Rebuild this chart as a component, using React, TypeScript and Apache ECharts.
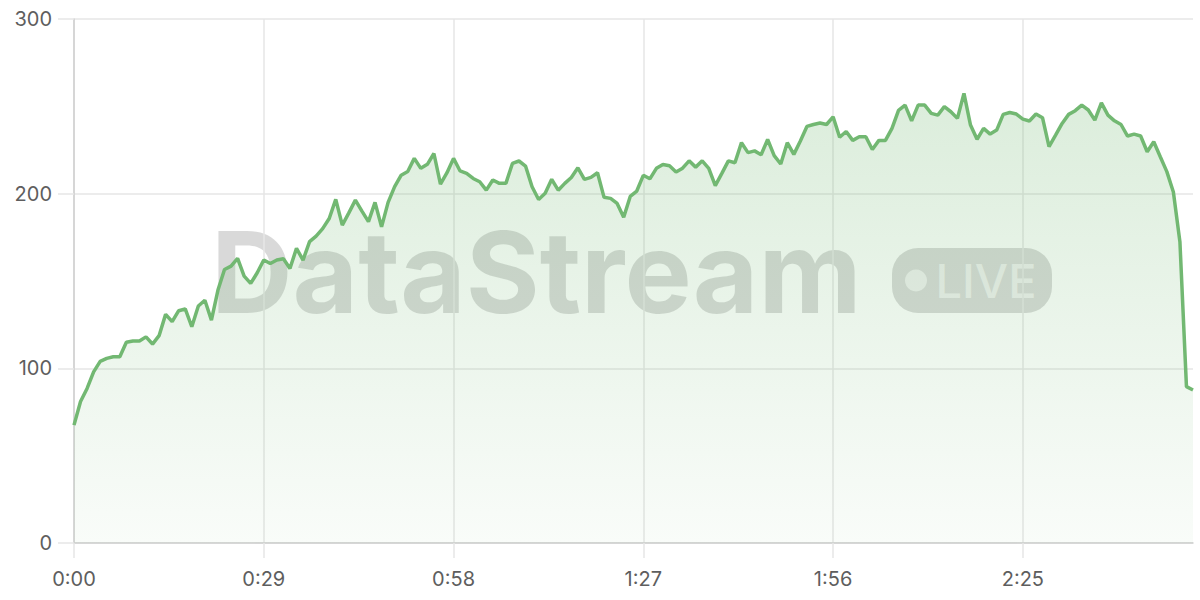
import { useEffect, useRef } from "react";
import * as echarts from "echarts";

// seconds elapsed, one sample per second
const values: number[] = [
  67.5, 81, 88.5, 98, 104, 105.7, 106.6, 106.6, 114.9, 115.6,
  115.6, 118, 113.9, 118.7, 130.9, 126.7, 133, 134, 123.8, 135.7,
  139, 127.6, 144.8, 156.6, 158.5, 163, 152.8, 148.6, 154.7, 162,
  160, 162, 162.7, 157.2, 168.7, 162, 172.5, 175.7, 180, 185.8,
  196.7, 182, 189, 196.3, 190, 184, 195, 181, 195, 204,
  210.6, 212.7, 220.2, 214.5, 216.8, 223, 205.5, 212, 220.2, 213,
  211.6, 208.7, 206.8, 202, 207.8, 205.9, 205.9, 217.3, 218.7, 215.8,
  204, 196.7, 200.2, 208.2, 202, 205.9, 209.3, 214.8, 208.2, 209.3,
  212, 197.9, 197.3, 194.4, 186.5, 198.4, 201.5, 210.5, 208.5, 214.5,
  216.7, 216, 212.4, 214.6, 218.8, 215.2, 218.8, 214.5, 204.6, 211.6,
  218.8, 217.7, 229.2, 223.5, 224.5, 222.3, 231, 221.8, 217, 229.2,
  222.5, 230.2, 238.5, 239.6, 240.5, 239.6, 244, 232.3, 235.6, 230.5,
  232.6, 232.6, 225.3, 230.5, 230.5, 237.4, 247.7, 250.7, 241.7, 250.7,
  250.7, 246, 245, 249.8, 246.9, 243.1, 257.4, 239.3, 231.1, 237.4,
  234.1, 236.4, 245.4, 246.5, 245.6, 242.7, 241.6, 245.6, 243.5, 226.9,
  233.5, 240.2, 245.4, 247.5, 250.7, 247.9, 242.1, 252, 245, 241.7,
  239.6, 233, 234.1, 233, 224, 229.7, 221.1, 212.6, 201, 172.5,
  89.5, 87.6,
];

const fmt = (s: number) => `${Math.floor(s / 60)}:${String(s % 60).padStart(2, "0")}`;
const categories: string[] = values.map((_, i) => fmt(i));

const yMin = 0;
const yMax = 300;
const yInterval = 100;
const labelEvery = 29;

const watermarkText = "DataStream";
const badgeText = "LIVE";

export default function App() {
  const ref = useRef<HTMLDivElement>(null);
  useEffect(() => {
    if (!ref.current) return;
    const chart = echarts.init(ref.current, undefined, { renderer: "svg" });
    const green = "#72b872";
    const wm = "rgba(0,0,0,0.15)";
    chart.setOption({
      animation: false,
      backgroundColor: "#ffffff",
      grid: { left: 74, right: 7, top: 19, bottom: 57, containLabel: false },
      xAxis: {
        type: "category",
        data: categories,
        boundaryGap: false,
        axisLine: { show: true, lineStyle: { color: "#cfcfcf", width: 1.5 } },
        axisTick: {
          show: true,
          interval: labelEvery - 1,
          length: 15,
          lineStyle: { color: "#e6e6e6", width: 1.5 },
        },
        axisLabel: {
          interval: labelEvery - 1,
          color: "#5e5e5e",
          fontFamily: "Inter",
          fontSize: 20,
          margin: 26,
        },
        splitLine: {
          show: true,
          interval: labelEvery - 1,
          lineStyle: { color: "#e6e6e6", width: 1.5 },
        },
      },
      yAxis: {
        type: "value",
        min: yMin,
        max: yMax,
        interval: yInterval,
        axisLine: { show: true, lineStyle: { color: "#cfcfcf", width: 1.5 } },
        axisTick: { show: true, length: 16, lineStyle: { color: "#e6e6e6", width: 1.5 } },
        axisLabel: {
          color: "#5e5e5e",
          fontFamily: "Inter",
          fontSize: 20,
          margin: 22,
        },
        splitLine: { show: true, lineStyle: { color: "#e6e6e6", width: 1.5 } },
      },
      graphic: [
        {
          type: "text",
          z: 0,
          silent: true,
          style: {
            x: 211,
            y: 272,
            text: watermarkText,
            fill: wm,
            font: "bold 113px Inter",
            textAlign: "left",
            verticalAlign: "middle",
          },
        },
        {
          type: "rect",
          z: 0,
          silent: true,
          shape: { x: 892, y: 248, width: 160, height: 65, r: 26 },
          style: { fill: wm },
        },
        {
          type: "circle",
          z: 0,
          silent: true,
          shape: { cx: 916, cy: 280.5, r: 11 },
          style: { fill: "rgba(255,255,255,0.6)" },
        },
        {
          type: "text",
          z: 0,
          silent: true,
          style: {
            x: 986,
            y: 280.5,
            text: badgeText,
            fill: "rgba(255,255,255,0.6)",
            font: "500 47px Inter",
            textAlign: "center",
            verticalAlign: "middle",
          },
        },
      ],
      series: [
        {
          type: "line",
          data: values,
          showSymbol: false,
          symbol: "none",
          smooth: false,
          lineStyle: { color: green, width: 3.5 },
          itemStyle: { color: green },
          areaStyle: {
            color: new echarts.graphic.LinearGradient(0, 0, 0, 1, [
              { offset: 0, color: "rgba(114,184,114,0.36)" },
              { offset: 1, color: "rgba(114,184,114,0.06)" },
            ]),
          },
        },
      ],
    });
    return () => chart.dispose();
  }, []);
  return (
    <div
      ref={ref}
      style={{ position: "absolute", left: 0, top: 0, width: 1200, height: 600 }}
    />
  );
}
